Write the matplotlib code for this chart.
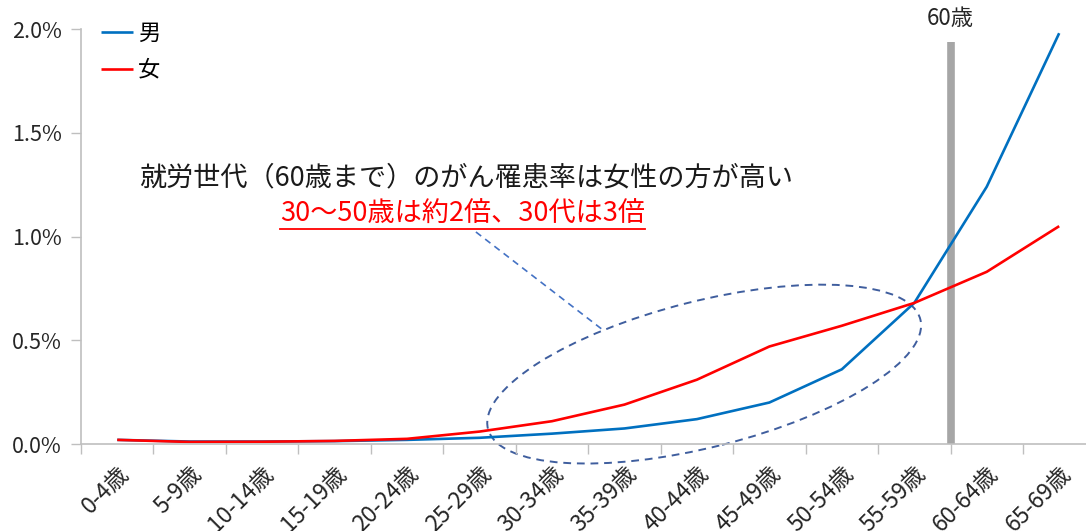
import matplotlib
matplotlib.use("Agg")
import matplotlib.pyplot as plt
from matplotlib.patches import Ellipse
from matplotlib.transforms import IdentityTransform
from matplotlib.ticker import FuncFormatter, FixedLocator

plt.rcParams['font.family'] = ['Noto Sans CJK JP', 'DejaVu Sans']

ages = ["0-4歳", "5-9歳", "10-14歳", "15-19歳", "20-24歳", "25-29歳", "30-34歳",
        "35-39歳", "40-44歳", "45-49歳", "50-54歳", "55-59歳", "60-64歳", "65-69歳"]
male = [0.02, 0.012, 0.012, 0.014, 0.02, 0.03, 0.05, 0.075, 0.12, 0.20, 0.36, 0.68, 1.24, 1.98]
female = [0.02, 0.01, 0.011, 0.015, 0.025, 0.06, 0.11, 0.19, 0.31, 0.47, 0.57, 0.68, 0.83, 1.05]
yticks = [0.0, 0.5, 1.0, 1.5, 2.0]
cutoff_pos = 11.5   # boundary between 55-59 and 60-64

BLUE = "#0070C0"
RED = "#FF0000"
GRID = "#BFBFBF"

fig = plt.figure(figsize=(10.86, 5.31), dpi=100)
ax = fig.add_axes([0.0746, 0.1638, 0.9254, 0.7815])

x = list(range(len(ages)))
ax.plot(x, male, color=BLUE, lw=1.9, label="男", solid_capstyle="butt")
ax.plot(x, female, color=RED, lw=1.9, label="女", solid_capstyle="butt")

ax.set_xlim(-0.5, 13.37)
ax.set_ylim(0, 2.0)

# category labels at centres, tick marks at boundaries
ax.set_xticks(x)
ax.set_xticklabels(ages, rotation=45, ha="right", va="top", rotation_mode="anchor",
                   fontsize=16.5, color="#262626")
ax.tick_params(axis="x", which="major", length=0, pad=13)
ax.xaxis.set_minor_locator(FixedLocator([i - 0.5 for i in range(len(ages) + 1)]))
ax.tick_params(axis="x", which="minor", length=7, width=1, color=GRID, direction="out")

ax.set_yticks(yticks)
ax.yaxis.set_major_formatter(FuncFormatter(lambda v, _: f"{v:.1f}%"))
ax.tick_params(axis="y", length=7, width=1, color=GRID, labelsize=15.5, labelcolor="#262626", pad=7)

for s in ["top", "right"]:
    ax.spines[s].set_visible(False)
for s in ["left", "bottom"]:
    ax.spines[s].set_color(GRID)
    ax.spines[s].set_linewidth(1.2)

# 60-year marker
ax.plot([cutoff_pos, cutoff_pos], [0, 1.937], color="#A6A6A6", lw=5.5, solid_capstyle="butt", zorder=1)
ax.text(cutoff_pos, 1.995, "60歳", ha="center", va="bottom", fontsize=16, color="#262626", clip_on=False)

leg = ax.legend(loc="upper left", bbox_to_anchor=(0.0, 1.065), frameon=False, fontsize=16,
                handlelength=1.45, handletextpad=0.2, labelspacing=0.62)

# annotation
ax.text(4.81, 1.282, "就労世代（60歳まで）のがん罹患率は女性の方が高い", ha="center", va="center",
        fontsize=19.5, color="#1A1A1A")
note = ax.text(4.77, 1.108, "30～50歳は約2倍、30代は3倍", ha="center", va="center",
               fontsize=19.5, color=RED)

ax.plot([4.95, 6.72], [1.022, 0.545], color="#4472C4", lw=1.2, ls=(0, (4, 3)))

fig.canvas.draw()
bb = note.get_window_extent()
inv = ax.transData.inverted()
(ux0, uy), (ux1, _) = inv.transform([(bb.x0, bb.y0 - 1), (bb.x1, bb.y0 - 1)])
ax.plot([ux0, ux1], [uy, uy], color=RED, lw=1.3, clip_on=False)

cx, cy = ax.transData.transform((8.10, 0.337))
ax.add_patch(Ellipse((cx, cy), 446, 146, angle=14.2, fill=False, ec="#3F5E9E", lw=1.4,
                     ls=(0, (4, 3)), transform=IdentityTransform(), clip_on=False))

fig.savefig("out.png", dpi=100)
